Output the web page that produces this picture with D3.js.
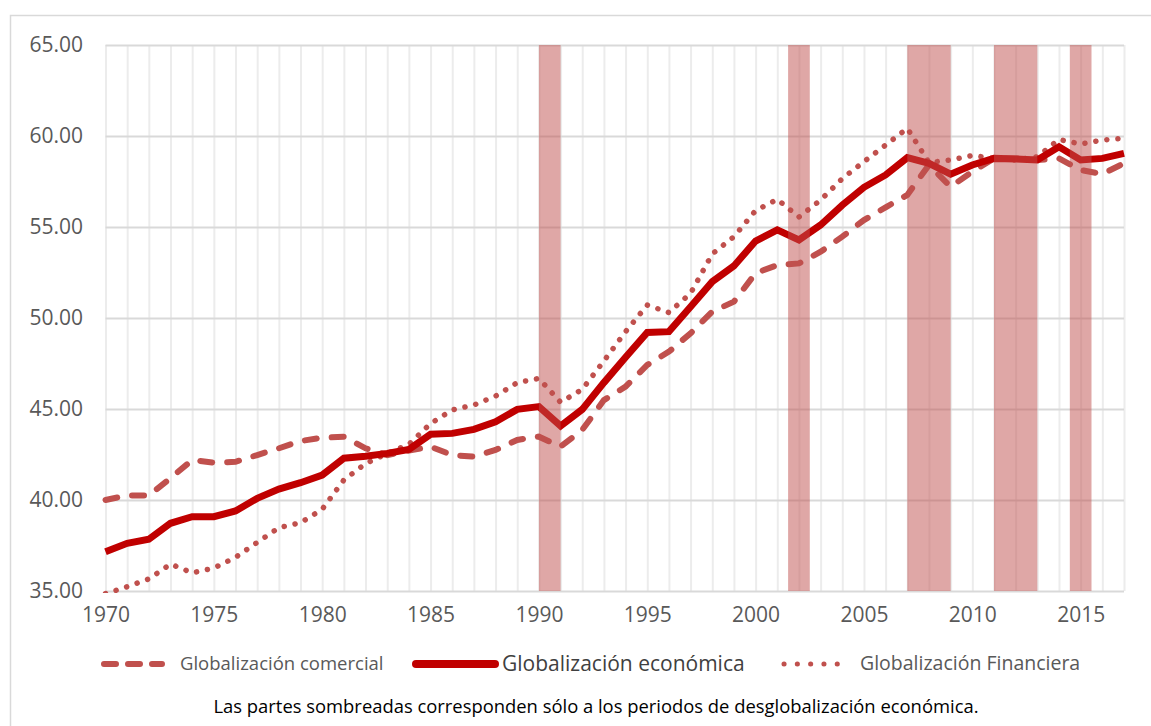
<!DOCTYPE html>
<html lang="es">
<head>
<meta charset="UTF-8">
<title>Globalización</title>
<script src="https://d3js.org/d3.v7.min.js"></script>
<style>
    body { margin: 0; background: #fff; }
    text { font-family: "Open Sans", "DejaVu Sans", sans-serif; }
    .tick text { fill: #595959; font-size: 21px; }
</style>
</head>
<body>
<svg id="chart"></svg>
<script>
    const width = 1151, height = 726;

    // años y series
    const years = d3.range(1970, 2018);
    const comercial = [40.0, 40.25, 40.25, 41.2, 42.2, 42.05, 42.1, 42.47, 42.84, 43.24,
        43.42, 43.48, 42.84, 42.47, 42.71, 42.93, 42.47, 42.38, 42.75, 43.3,
        43.48, 42.93, 43.85, 45.49, 46.23, 47.42, 48.15, 49.16, 50.35, 50.9,
        52.46, 52.91, 53.0, 53.64, 54.47, 55.38, 56.08, 56.76, 58.41, 57.21,
        58.04, 58.77, 58.77, 58.68, 58.77, 58.13, 57.91, 58.5];
    const economica = [37.16, 37.62, 37.84, 38.72, 39.08, 39.08, 39.4, 40.09, 40.6, 40.95,
        41.37, 42.3, 42.4, 42.56, 42.78, 43.61, 43.66, 43.88, 44.3, 44.98,
        45.13, 44.07, 44.98, 46.45, 47.84, 49.21, 49.25, 50.62, 52.0, 52.86,
        54.23, 54.84, 54.29, 55.11, 56.2, 57.18, 57.86, 58.81, 58.5, 57.9,
        58.41, 58.77, 58.74, 58.68, 59.41, 58.68, 58.77, 59.05];
    const financiera = [34.85, 35.24, 35.66, 36.48, 36.0, 36.26, 36.85, 37.67, 38.48, 38.75,
        39.49, 41.1, 42.0, 42.56, 43.06, 44.2, 44.95, 45.22, 45.71, 46.45,
        46.68, 45.37, 46.08, 47.64, 49.25, 50.71, 50.3, 51.36, 53.52, 54.47,
        55.9, 56.52, 55.55, 56.48, 57.66, 58.59, 59.5, 60.42, 58.54, 58.68,
        58.93, 58.77, 58.68, 58.86, 59.81, 59.56, 59.78, 59.87];

    // periodos de desglobalización (sombreados)
    const shadedPeriods = [[1990, 1991], [2001.5, 2002.5], [2007, 2009], [2011, 2013], [2014.5, 2015.5]];

    const yTicks = [35, 40, 45, 50, 55, 60, 65];
    const xTicks = [1970, 1975, 1980, 1985, 1990, 1995, 2000, 2005, 2010, 2015];

    const seriesNames = ["Globalización comercial", "Globalización económica", "Globalización Financiera"];
    const note = "Las partes sombreadas corresponden sólo a los periodos de desglobalización económica.";

    const plot = {left: 105.5, right: 1124, top: 45, bottom: 591};

    const svg = d3.select("#chart")
        .attr("width", width)
        .attr("height", height);

    // marco exterior
    svg.append("rect")
        .attr("x", 10.5).attr("y", 15.5)
        .attr("width", 1200).attr("height", 800)
        .attr("fill", "none")
        .attr("stroke", "#d9d9d9")
        .attr("stroke-width", 1.5);

    const x = d3.scaleLinear().domain([1970, 2017]).range([plot.left, plot.right]);
    const y = d3.scaleLinear().domain([35, 65]).range([plot.bottom, plot.top]);

    // rejilla vertical (cada año)
    svg.append("g")
        .attr("transform", `translate(0,${plot.bottom})`)
        .call(d3.axisBottom(x).tickValues(years).tickSize(-(plot.bottom - plot.top)).tickFormat(""))
        .call(g => g.select(".domain").remove())
        .call(g => g.selectAll("line").attr("stroke", "#ececec").attr("stroke-width", 2));

    // rejilla horizontal
    svg.append("g")
        .attr("transform", `translate(${plot.left},0)`)
        .call(d3.axisLeft(y).tickValues(yTicks).tickSize(-(plot.right - plot.left)).tickFormat(""))
        .call(g => g.select(".domain").remove())
        .call(g => g.selectAll("line").attr("stroke", "#d9d9d9").attr("stroke-width", 2));

    // etiquetas eje Y
    svg.append("g")
        .attr("transform", `translate(83,0)`)
        .call(d3.axisLeft(y).tickValues(yTicks).tickSize(0).tickPadding(0).tickFormat(d3.format(".2f")))
        .call(g => g.select(".domain").remove());

    // etiquetas eje X
    svg.append("g")
        .attr("transform", `translate(0,${plot.bottom + 16})`)
        .call(d3.axisBottom(x).tickValues(xTicks).tickSize(0).tickPadding(0).tickFormat(d3.format("d")))
        .call(g => g.select(".domain").remove());

    svg.append("clipPath").attr("id", "clip")
        .append("rect")
        .attr("x", plot.left - 6).attr("y", plot.top - 10)
        .attr("width", plot.right - plot.left + 12)
        .attr("height", plot.bottom - plot.top + 12);

    const line = d3.line()
        .x((d, i) => x(years[i]))
        .y(d => y(d));

    const lines = svg.append("g").attr("clip-path", "url(#clip)");

    lines.append("path")
        .datum(comercial)
        .attr("d", line)
        .attr("fill", "none")
        .attr("stroke", "#c0504d")
        .attr("stroke-width", 6)
        .attr("stroke-linecap", "round")
        .attr("stroke-dasharray", "12,15");

    lines.append("path")
        .datum(financiera)
        .attr("d", line)
        .attr("fill", "none")
        .attr("stroke", "#c0504d")
        .attr("stroke-width", 5.5)
        .attr("stroke-linecap", "round")
        .attr("stroke-dasharray", "0.1,11");

    lines.append("path")
        .datum(economica)
        .attr("d", line)
        .attr("fill", "none")
        .attr("stroke", "#c00000")
        .attr("stroke-width", 7);

    // sombreados encima de las líneas
    svg.append("g")
        .selectAll("rect")
        .data(shadedPeriods)
        .join("rect")
        .attr("x", d => x(d[0]))
        .attr("width", d => x(d[1]) - x(d[0]))
        .attr("y", y(65))
        .attr("height", y(35) - y(65))
        .attr("fill", "#c0504d")
        .attr("fill-opacity", 0.5);

    // leyenda
    const legend = svg.append("g");
    const ly = 664;
    legend.append("line")
        .attr("x1", 104).attr("x2", 162).attr("y1", ly).attr("y2", ly)
        .attr("stroke", "#c0504d").attr("stroke-width", 6)
        .attr("stroke-linecap", "round").attr("stroke-dasharray", "12,12");
    legend.append("text")
        .attr("x", 180).attr("y", ly + 6)
        .attr("font-size", 18.5).attr("fill", "#595959")
        .text(seriesNames[0]);

    legend.append("line")
        .attr("x1", 416).attr("x2", 495).attr("y1", ly).attr("y2", ly)
        .attr("stroke", "#c00000").attr("stroke-width", 8)
        .attr("stroke-linecap", "round");
    legend.append("text")
        .attr("x", 502).attr("y", ly + 7)
        .attr("font-size", 21).attr("fill", "#404040")
        .text(seriesNames[1]);

    legend.append("line")
        .attr("x1", 784).attr("x2", 850).attr("y1", ly).attr("y2", ly)
        .attr("stroke", "#c0504d").attr("stroke-width", 5)
        .attr("stroke-linecap", "round").attr("stroke-dasharray", "0.1,13.2");
    legend.append("text")
        .attr("x", 860).attr("y", ly + 6)
        .attr("font-size", 19.5).attr("fill", "#595959")
        .text(seriesNames[2]);

    svg.append("text")
        .attr("x", 596).attr("y", 713)
        .attr("text-anchor", "middle")
        .attr("font-size", 18.4)
        .attr("fill", "#000")
        .text(note);
</script>
</body>
</html>
